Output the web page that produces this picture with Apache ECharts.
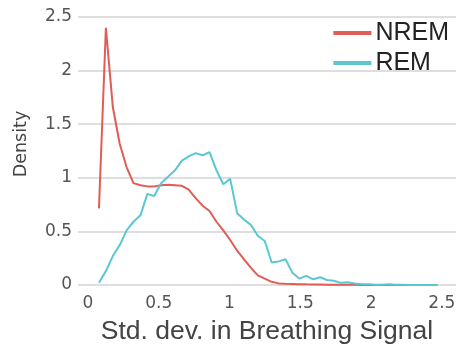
<!DOCTYPE html>
<html><head><meta charset="utf-8">
<script src="https://cdn.jsdelivr.net/npm/echarts@6/dist/echarts.min.js"></script>
<style>html,body{margin:0;padding:0;background:#fff}#c{width:456px;height:347px}</style>
</head><body><div id="c"></div>
<script>
const xs = [0.078,0.127,0.176,0.224,0.273,0.322,0.371,0.420,0.468,0.517,0.566,0.615,0.664,0.712,0.761,0.810,0.859,0.908,0.956,1.005,1.054,1.103,1.152,1.200,1.249,1.298,1.347,1.396,1.444,1.493,1.542,1.591,1.640,1.688,1.737,1.786,1.835,1.884,1.932,1.981,2.030,2.079,2.128,2.176,2.225,2.274,2.323,2.372,2.420,2.469];
const nrem = [0.715,2.40,1.66,1.32,1.10,0.95,0.93,0.92,0.92,0.93,0.935,0.93,0.925,0.89,0.81,0.74,0.69,0.59,0.51,0.42,0.32,0.24,0.16,0.09,0.06,0.03,0.015,0.012,0.01,0.008,0.006,0.005,0.004,0.003,0.003,0.002,0.002,0.002,0.001,0.001,0.001,0.001,0,0,0,0,0,0,0,0];
const rem = [0.02,0.13,0.27,0.37,0.51,0.59,0.65,0.85,0.83,0.95,1.01,1.07,1.16,1.20,1.23,1.21,1.24,1.07,0.94,0.99,0.67,0.61,0.56,0.46,0.41,0.21,0.22,0.24,0.115,0.06,0.085,0.053,0.072,0.047,0.04,0.02,0.025,0.015,0.006,0.006,0.003,0.003,0.006,0.002,0.002,0.001,0.001,0,0,0];
const xTicks = [0,0.5,1,1.5,2,2.5];
const seriesNames = ['NREM','REM'];
const colors = ['#e05c57','#5bc7d3'];

const chart = echarts.init(document.getElementById('c'), null, {renderer:'canvas'});
chart.setOption({
  animation:false,
  grid:{left:78,right:0,top:17,bottom:62, containLabel:false, outerBoundsMode:'none'},
  legend:{
    right:7, top:20, orient:'vertical', itemGap:4, padding:0,
    itemWidth:38, itemHeight:4, icon:'rect',
    textStyle:{fontFamily:'Liberation Sans', fontSize:25, lineHeight:26, color:'#222', padding:[0,0,0,-1]},
    data:seriesNames
  },
  xAxis:{
    type:'value', min:-0.07, max:2.6,
    name:'Std. dev. in Breathing Signal', nameLocation:'middle', nameGap:33,
    nameTextStyle:{fontFamily:'Liberation Sans', fontSize:26.5, color:'#444'},
    axisLine:{show:false}, axisTick:{show:false}, splitLine:{show:false},
    axisLabel:{customValues:xTicks, fontFamily:'DejaVu Sans', fontSize:17, color:'#555', margin:10}
  },
  yAxis:{
    type:'value', min:0, max:2.5, interval:0.5,
    name:'Density', nameLocation:'middle', nameGap:48, nameRotate:90,
    nameTextStyle:{fontFamily:'DejaVu Sans', fontSize:17.5, color:'#444', padding:[0,0,0,14]},
    axisLine:{show:false}, axisTick:{show:false},
    splitLine:{lineStyle:{color:'#d3d3d3', width:1.5}},
    axisLabel:{fontFamily:'DejaVu Sans', fontSize:17, color:'#555', margin:6}
  },
  series:[
    {name:seriesNames[0], type:'line', showSymbol:false, color:colors[0], lineStyle:{width:2}, data:xs.map((x,i)=>[x,nrem[i]])},
    {name:seriesNames[1], type:'line', showSymbol:false, color:colors[1], lineStyle:{width:2}, data:xs.map((x,i)=>[x,rem[i]])}
  ]
});
</script></body></html>
